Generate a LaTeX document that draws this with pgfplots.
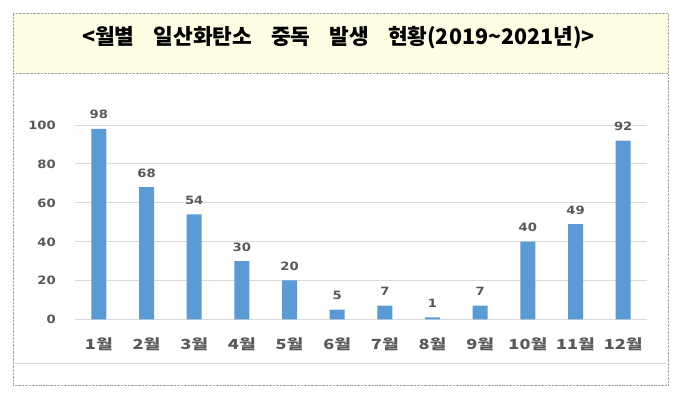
\documentclass[border=0pt]{standalone}
\usepackage{pgfplots}
\pgfplotsset{compat=1.18}
\usepackage{fontspec}
\newfontfamily\kr{Noto Sans CJK KR}
\newfontfamily\krw[FakeStretch=1.3]{Noto Sans CJK KR}
\newfontfamily\dv[FakeStretch=1.15]{DejaVu Sans}
\definecolor{barblue}{HTML}{5B9BD5}
\definecolor{txtgray}{HTML}{595959}
\definecolor{gridc}{HTML}{D9D9D9}
\definecolor{titlebg}{HTML}{FDFDE4}
\definecolor{boxc}{HTML}{A6A6A6}
\begin{document}
\begin{tikzpicture}[x=1bp,y=1bp]
\useasboundingbox (0,0) rectangle (680,392);
\fill[white] (0,0) rectangle (680,392);
\fill[titlebg] (13,319) rectangle (668,379);
\draw[boxc, densely dotted] (13,319) rectangle (668,379);
\draw[boxc, densely dotted] (13,319) -- (13,7) -- (668,7) -- (668,319);
\draw[gridc] (15,29) -- (666,29);
\node[anchor=west, inner sep=0pt] at (82,354.5) {\kr\bfseries\fontsize{21.5}{24}\selectfont <월별\hspace{19bp}일산화탄소\hspace{19bp}중독\hspace{19bp}발생\hspace{19bp}현황(2019\textasciitilde2021년)>};
\begin{axis}[
  at={(75bp,72.7bp)}, anchor=south west,
  scale only axis, width=572bp, height=194.3bp,
  xmin=-0.5, xmax=11.5, ymin=0, ymax=100,
  clip=false,
  axis line style={draw=none},
  major tick length=0pt,
  ymajorgrids, major grid style={gridc, line width=0.8bp},
  ytick={0,20,40,60,80,100},
  xtick={0,...,11},
  xticklabels={1월,2월,3월,4월,5월,6월,7월,8월,9월,10월,11월,12월},
  yticklabel style={font=\dv\bfseries\fontsize{11.5}{12}\selectfont, text=txtgray, anchor=base east, inner sep=0pt, xshift=-19bp, yshift=-4.5bp},
  xticklabel style={font=\krw\bfseries\fontsize{14}{16}\selectfont, text=txtgray, anchor=base, inner sep=0pt, yshift=-30bp},
  /pgf/number format/assume math mode=true,
  ybar, bar width=15bp,
  nodes near coords,
  every node near coord/.append style={font=\dv\bfseries\fontsize{11.5}{12}\selectfont, text=txtgray, anchor=base, inner sep=0pt, yshift=10bp},
]
\addplot[fill=barblue, draw=none] coordinates {
(0,98) (1,68) (2,54) (3,30) (4,20) (5,5) (6,7) (7,1) (8,7) (9,40) (10,49) (11,92)
};
\end{axis}
\end{tikzpicture}
\end{document}
